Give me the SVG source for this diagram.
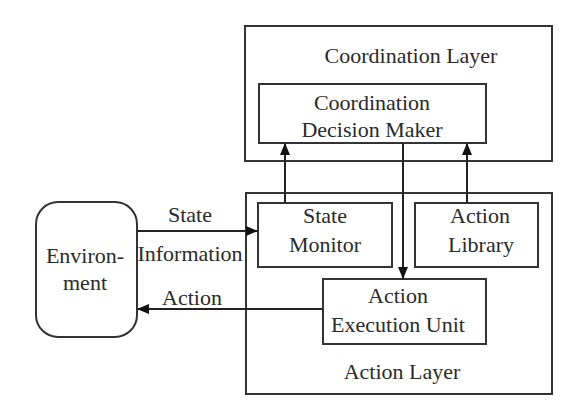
<svg xmlns="http://www.w3.org/2000/svg" width="580" height="412" viewBox="0 0 580 412">
<style>
.box{fill:#fff;stroke:#333;stroke-width:2}
.t{font-family:"Liberation Serif","Times New Roman",serif;font-size:22px;fill:#2a2a2a;text-anchor:middle}
.c{fill:none;stroke:#222;stroke-width:2}
</style>
<defs>
<marker id="ah" markerWidth="12" markerHeight="10" refX="11" refY="5" orient="auto" markerUnits="userSpaceOnUse">
<path d="M0,0 L12,5 L0,10 Z" fill="#111"/>
</marker>
</defs>
<rect width="580" height="412" fill="#fff"/>
<g id="coordination-layer">
<rect class="box" x="245" y="26" width="307" height="135"/>
<text class="t" x="411" y="63">Coordination Layer</text>
</g>
<g id="coordination-decision-maker">
<rect class="box" x="259" y="84" width="227" height="59"/>
<text class="t" x="372" y="110">Coordination</text>
<text class="t" x="372" y="137">Decision Maker</text>
</g>
<g id="action-layer">
<rect class="box" x="246" y="193" width="306" height="201"/>
<text class="t" x="402" y="379">Action Layer</text>
</g>
<g id="state-monitor">
<rect class="box" x="258" y="203" width="134" height="64"/>
<text class="t" x="325" y="223">State</text>
<text class="t" x="325" y="252">Monitor</text>
</g>
<g id="action-library">
<rect class="box" x="415" y="203" width="123" height="64"/>
<text class="t" x="480" y="223">Action</text>
<text class="t" x="481" y="252">Library</text>
</g>
<g id="action-execution-unit">
<rect class="box" x="323" y="279" width="163" height="65"/>
<text class="t" x="398" y="303">Action</text>
<text class="t" x="398" y="332">Execution Unit</text>
</g>
<g id="environment">
<rect class="box" x="36" y="202" width="101" height="135" rx="22" ry="22"/>
<text class="t" x="85" y="263">Environ-</text>
<text class="t" x="85" y="290">ment</text>
</g>
<g id="connectors">
<line class="c" x1="285" y1="203" x2="285" y2="144" marker-end="url(#ah)"/>
<line class="c" x1="467" y1="203" x2="467" y2="144" marker-end="url(#ah)"/>
<line class="c" x1="403" y1="143" x2="403" y2="278" marker-end="url(#ah)"/>
<line class="c" x1="137" y1="231" x2="257" y2="231" marker-end="url(#ah)"/>
<line class="c" x1="323" y1="309" x2="138" y2="309" marker-end="url(#ah)"/>
<text class="t" x="190" y="222">State</text>
<text class="t" x="190" y="261">Information</text>
<text class="t" x="192" y="305">Action</text>
</g>
</svg>
